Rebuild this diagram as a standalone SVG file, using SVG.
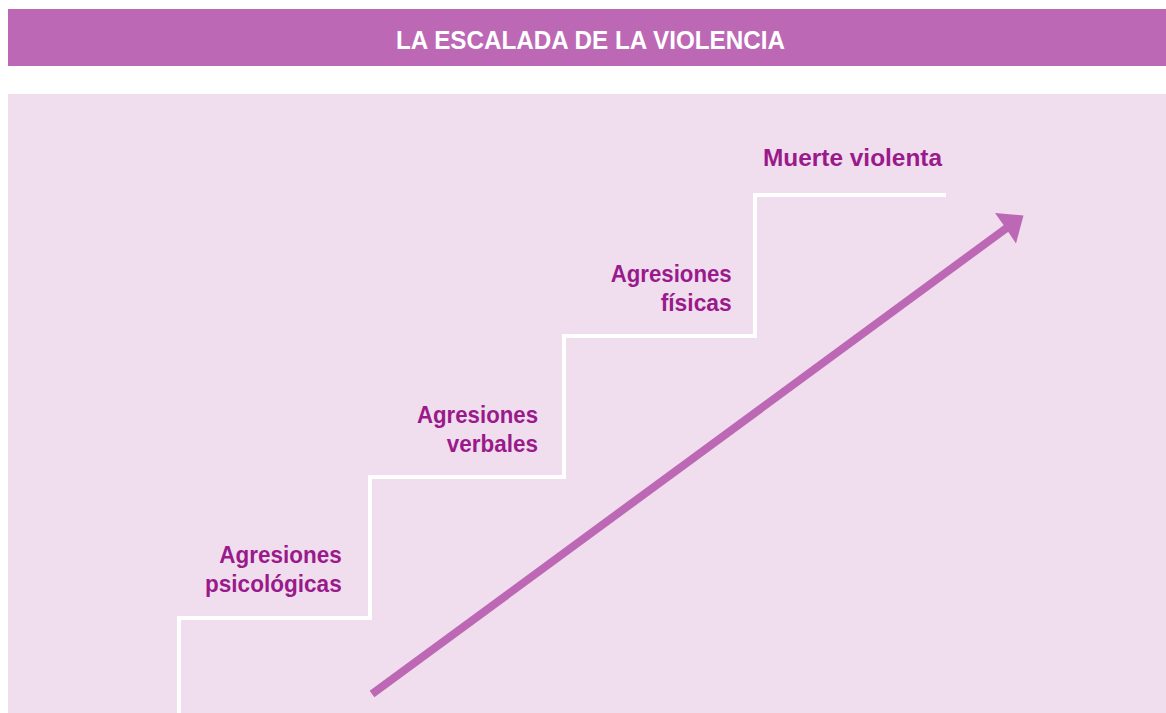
<svg xmlns="http://www.w3.org/2000/svg" width="1166" height="713" viewBox="0 0 1166 713">
  <style>
    .title { font-family: "Liberation Sans", Arial, sans-serif; font-weight: bold; font-size: 26.5px; fill: #ffffff; }
    .lbl { font-family: "Liberation Sans", Arial, sans-serif; font-weight: bold; font-size: 24.5px; fill: #9a1a8c; }
    .stairs { fill: none; stroke: #ffffff; stroke-width: 4; stroke-linejoin: miter; }
    .shaft { stroke: #bd68b5; stroke-width: 8; stroke-linecap: butt; fill: none; }
  </style>
  <rect x="0" y="0" width="1166" height="713" fill="#ffffff"/>
  <g id="header">
    <rect x="8" y="9" width="1158" height="57" fill="#bd68b5"/>
    <text class="title" x="590.5" y="49" text-anchor="middle" textLength="389" lengthAdjust="spacingAndGlyphs">LA ESCALADA DE LA VIOLENCIA</text>
  </g>
  <g id="panel">
    <rect x="8" y="94" width="1158" height="619" fill="#f0deee"/>
  </g>
  <g id="connectors">
    <polyline id="stairs" class="stairs" points="179,713 179,618 370,618 370,477 564,477 564,336 755,336 755,195 946,195"/>
    <g id="arrow">
      <line class="shaft" x1="372" y1="694" x2="1008" y2="227"/>
      <polygon points="1023.5,215.5 995,213 1006,228.5 1016,243.5" fill="#bd68b5"/>
    </g>
  </g>
  <g id="node-psicologicas">
    <text class="lbl" x="341.7" y="563" text-anchor="end" textLength="122.4" lengthAdjust="spacingAndGlyphs">Agresiones</text>
    <text class="lbl" x="341.7" y="592" text-anchor="end" textLength="136.7" lengthAdjust="spacingAndGlyphs">psicológicas</text>
  </g>
  <g id="node-verbales">
    <text class="lbl" x="538" y="423" text-anchor="end" textLength="121" lengthAdjust="spacingAndGlyphs">Agresiones</text>
    <text class="lbl" x="538" y="452" text-anchor="end" textLength="91.3" lengthAdjust="spacingAndGlyphs">verbales</text>
  </g>
  <g id="node-fisicas">
    <text class="lbl" x="731.7" y="282" text-anchor="end" textLength="121" lengthAdjust="spacingAndGlyphs">Agresiones</text>
    <text class="lbl" x="731.7" y="311" text-anchor="end" textLength="71" lengthAdjust="spacingAndGlyphs">físicas</text>
  </g>
  <g id="node-muerte">
    <text class="lbl" x="763" y="166" textLength="179" lengthAdjust="spacingAndGlyphs">Muerte violenta</text>
  </g>
</svg>
